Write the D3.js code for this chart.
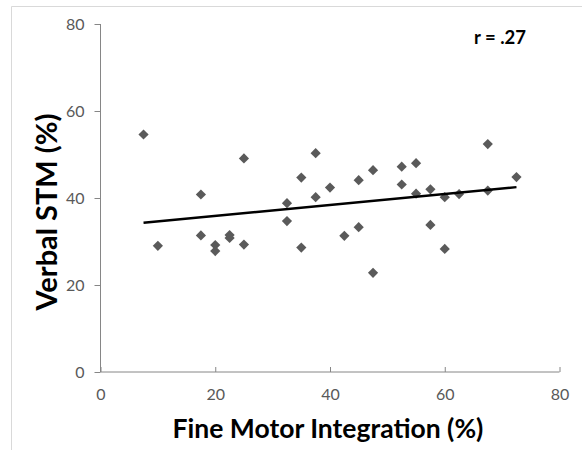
<!DOCTYPE html>
<html><head><meta charset="utf-8">
<script src="https://cdn.jsdelivr.net/npm/d3@7"></script>
<style>body{margin:0;background:#fff}svg{display:block}</style>
</head><body>
<script>
const xVals = [7.5,25,17.5,17.5,10,20,20,22.5,22.5,25,37.5,35,40,37.5,32.5,32.5,35,45,47.5,42.5,45,47.5,52.5,55,52.5,55,57.5,57.5,60,67.5,72.5,67.5,62.5,60];
const yVals = [54.6,49.1,40.8,31.4,29.0,29.2,27.8,31.5,30.8,29.3,50.3,44.7,42.4,40.2,38.8,34.7,28.6,44.1,46.4,31.3,33.3,22.8,47.2,48.0,43.1,41.0,42.0,33.8,28.3,52.4,44.8,41.7,40.9,40.2];
const trendX = [7.5,72.5];
const trendY = [34.3,42.5];
const xTicks = [0,20,40,60,80];
const yTicks = [0,20,40,60,80];
const xTitle = "Fine Motor Integration (%)";
const yTitle = "Verbal STM (%)";
const rLabel = "r = .27";

const W=582,H=450;
const svg=d3.select("body").append("svg").attr("width",W).attr("height",H);
svg.append("path").attr("d",`M11.5,${H}V6.5H${W}`).attr("fill","none").attr("stroke","#d9d9d9");
const x=d3.scaleLinear().domain([0,80]).range([100.5,559.5]);
const y=d3.scaleLinear().domain([0,80]).range([372,24]);
const font="Lato, 'Open Sans', sans-serif";

const gx=svg.append("g").attr("transform",`translate(0,${y(0)})`).call(d3.axisBottom(x).tickValues(xTicks).tickSize(-5).tickPadding(17));
const gy=svg.append("g").attr("transform",`translate(${x(0)},0)`).call(d3.axisLeft(y).tickValues(yTicks).tickSize(6).tickPadding(10));
[gx,gy].forEach(g=>{
  g.select(".domain").attr("stroke","#868686");
  g.selectAll(".tick line").attr("stroke","#868686");
  g.selectAll(".tick text").attr("fill","#595959").style("font-family",font).style("font-size","16px");
});
gx.select(".domain").attr("d",`M${x(0)},0H${x(80)}`);
gy.select(".domain").attr("d",`M0,${y(0)}V${y(80)}`);
gx.selectAll(".tick text").attr("dy","0.71em");

const pts=xVals.map((v,i)=>[v,yVals[i]]);
svg.append("g").selectAll("path").data(pts).join("path")
  .attr("d",d3.symbol().type(d3.symbolSquare).size(52))
  .attr("transform",d=>`translate(${x(d[0])},${y(d[1])}) rotate(45)`)
  .attr("fill","#5a5a5a");

svg.append("line").attr("x1",x(trendX[0])).attr("y1",y(trendY[0])).attr("x2",x(trendX[1])).attr("y2",y(trendY[1]))
  .attr("stroke","#000").attr("stroke-width",2.5);

svg.append("text").attr("x",500).attr("y",44).attr("text-anchor","middle")
  .style("font-family",font).style("font-weight","bold").style("font-size","18.5px").text(rLabel);

svg.append("text").attr("x",328).attr("y",438).attr("text-anchor","middle")
  .style("font-family",font).style("font-weight","bold").style("font-size","26.5px").text(xTitle);
svg.append("text").attr("transform",`translate(57,212) rotate(-90)`).attr("text-anchor","middle")
  .style("font-family",font).style("font-weight","bold").style("font-size","29px").text(yTitle);
</script>
</body></html>
